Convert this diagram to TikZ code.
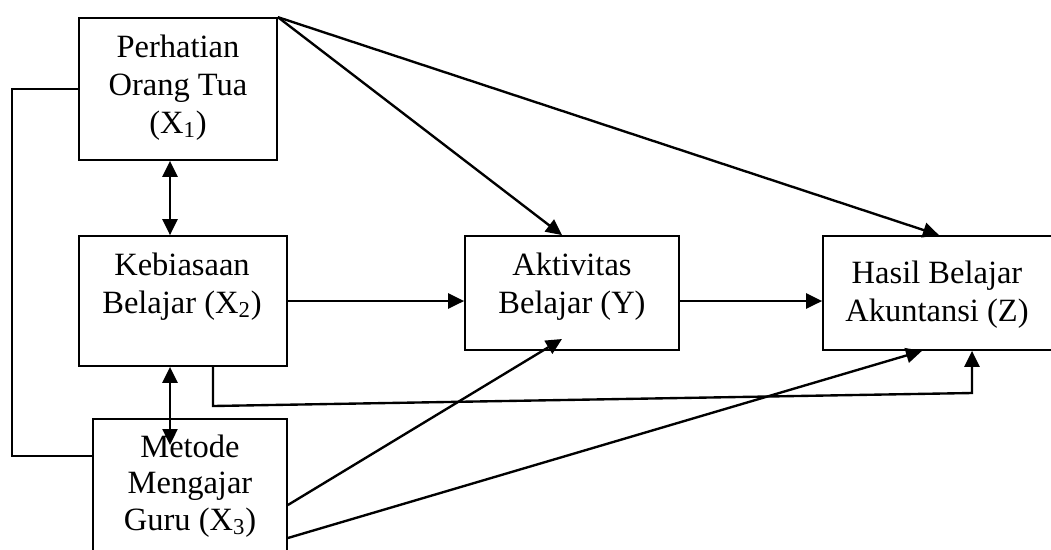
\documentclass[tikz,border=0pt]{standalone}
\usepackage{fontspec}
\setmainfont{Liberation Serif}
\usetikzlibrary{arrows.meta}

\tikzset{
  var/.style={draw, line width=1pt, inner sep=0pt},
  lbl/.style={align=center, inner sep=0pt, anchor=base, font=\fontsize{18.5}{21.5}\selectfont},
  link/.style={line width=1.35pt, -{Triangle[length=0.32cm,width=0.3cm]}},
  both/.style={line width=1.35pt, {Triangle[length=0.32cm,width=0.3cm]}-{Triangle[length=0.32cm,width=0.3cm]}},
}

\begin{document}
\begin{tikzpicture}[x=0.02cm, y=-0.02cm]
\path[use as bounding box] (0,0) rectangle (1051,549);
\node[var, minimum width=3.96cm, minimum height=2.84cm] (x1) at (178,89) {};
\node[var, minimum width=4.16cm, minimum height=2.6cm] (x2) at (183,301) {};
\node[var, minimum width=3.88cm, minimum height=3.32cm] (x3) at (190,502) {};
\node[var, minimum width=4.28cm, minimum height=2.28cm] (y) at (572,293) {};
\node[var, minimum width=4.64cm, minimum height=2.28cm] (z) at (939,293) {};
\node[lbl] (x1t) at (178,133) {Perhatian\\Orang Tua\\(X\textsubscript{1})};
\node[lbl] (x2t) at (182,313) {Kebiasaan\\Belajar (X\textsubscript{2})};
\node[lbl] (x3t) at (190,530) {Metode\\[-1pt]Mengajar\\[-1pt]Guru (X\textsubscript{3})};
\node[lbl] (yt) at (572,313) {Aktivitas\\Belajar (Y)};
\node[lbl] (zt) at (937,321) {Hasil Belajar\\Akuntansi (Z)};

\coordinate (lt) at (12,456);
\draw[line width=0.75pt] (x1.west) -| (lt) -- (lt -| x3.west);

\coordinate (c1) at (170,445);
\draw[both] (x1.south -| c1) -- (x2.north -| c1);
\draw[both] (x2.south -| c1) -- (c1);

\coordinate (mid) at (0,301);
\draw[link] (x2.east |- mid) -- (y.west |- mid);
\draw[link] (y.east |- mid) -- (z.west |- mid);

\draw[link] (x1.north east) -- ([xshift=-0.2cm]y.north);
\draw[link] (x1.north east) -- (z.north);

\coordinate (b1) at (213,406);
\coordinate (b2) at (972,393);
\draw[link] (x2.south -| b1) -- (b1) -- (b2) -- (z.south -| b2);

\coordinate (t1) at (562,339);
\coordinate (s1) at (0,505);
\coordinate (s2) at (0,538);
\draw[link] (x3.east |- s1) -- (t1);
\draw[link] (x3.east |- s2) -- ([xshift=-0.34cm]z.south);
\end{tikzpicture}
\end{document}
